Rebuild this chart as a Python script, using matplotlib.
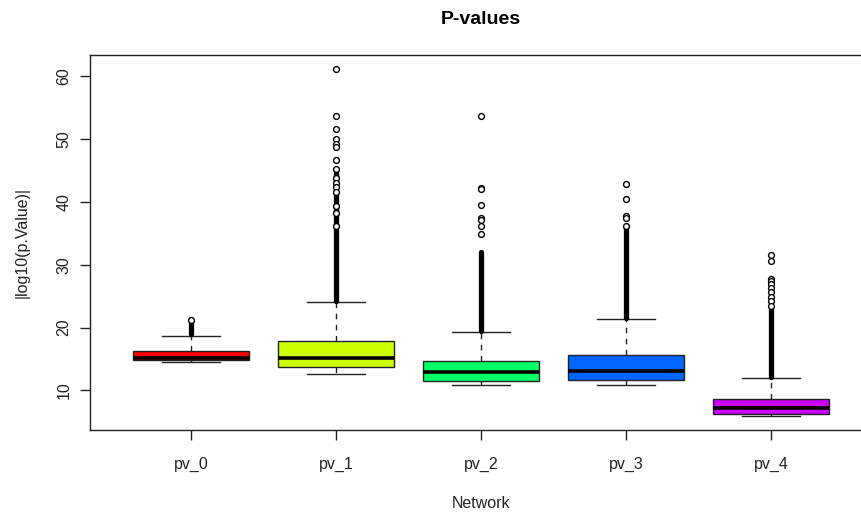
import matplotlib
matplotlib.use('Agg')
import matplotlib.pyplot as plt

plt.rcParams['font.family'] = ['Liberation Sans', 'DejaVu Sans']

# box statistics
labels = ['pv_0', 'pv_1', 'pv_2', 'pv_3', 'pv_4']
whislo = [14.5, 12.6, 10.8, 10.8, 5.9]
q1 = [14.85, 13.7, 11.5, 11.7, 6.3]
med = [15.15, 15.1, 13.0, 13.1, 7.2]
q3 = [16.2, 17.8, 14.6, 15.6, 8.7]
whishi = [18.7, 24.0, 19.3, 21.3, 12.0]

# runs of outliers so dense they print as a solid column
dense_lo = [18.9, 24.2, 19.5, 21.5, 12.2]
dense_hi = [20.9, 45.3, 32.1, 36.2, 22.9]

# single outliers that stand apart
fliers = [
    [21.2],
    [61.2, 53.7, 51.7, 50.1, 49.3, 48.8, 46.7, 45.3, 43.8, 43.0, 42.4, 41.6, 39.3, 38.2, 36.1],
    [53.7, 42.3, 42.0, 39.6, 37.4, 37.1, 36.1, 34.9],
    [42.8, 40.5, 37.8, 37.5, 36.2],
    [31.5, 30.6, 27.8, 27.4, 26.9, 26.3, 25.6, 24.9, 24.3, 23.5],
]

colors = ['#FF0000', '#CCFF00', '#00FF66', '#0066FF', '#CC00FF']

stats = []
for i in range(len(labels)):
    stats.append({'label': labels[i], 'whislo': whislo[i], 'q1': q1[i], 'med': med[i],
                  'q3': q3[i], 'whishi': whishi[i], 'fliers': []})

fig = plt.figure(figsize=(8.61, 5.12), dpi=100)
ax = fig.add_axes([90 / 861, 1 - 430 / 512, 782.5 / 861, 375 / 512])

pos = list(range(1, len(labels) + 1))
bp = ax.bxp(stats, positions=pos, widths=0.8, patch_artist=True, showfliers=False,
            boxprops=dict(edgecolor='#222222', linewidth=1.0),
            whiskerprops=dict(color='#222222', linewidth=1.0, linestyle=(0, (4, 4))),
            capprops=dict(color='#222222', linewidth=1.0),
            medianprops=dict(color='black', linewidth=2.6, solid_capstyle='butt'))
for box, c in zip(bp['boxes'], colors):
    box.set_facecolor(c)
for cap in bp['caps']:
    x0, x1 = cap.get_xdata()
    mid = (x0 + x1) / 2
    cap.set_xdata([mid - 0.2, mid + 0.2])

ax.vlines(pos, dense_lo, dense_hi, color='black', linewidth=3.8, capstyle='round', zorder=3)
for p, f in zip(pos, fliers):
    ax.plot([p] * len(f), f, linestyle='none', marker='o', markersize=4.2,
            markerfacecolor='white', markeredgecolor='black', markeredgewidth=1.0, zorder=4)

lo = min(whislo)
hi = max(max(f) for f in fliers)
ext = (hi - lo) * 0.04
ax.set_ylim(lo - ext, hi + ext)
ax.set_xlim(0.3, len(labels) + 0.7)

ax.set_yticks([10, 20, 30, 40, 50, 60])
ax.set_xticks(pos)
ax.set_xticklabels(labels)
ax.tick_params(axis='both', direction='out', length=7.5, width=1.0, labelsize=11.5, colors='#222222')
ax.tick_params(axis='x', pad=12)
ax.tick_params(axis='y', pad=6)
for t in ax.get_yticklabels():
    t.set_rotation(90)
    t.set_va('center')
for s in ax.spines.values():
    s.set_linewidth(1.0)
    s.set_color('#222222')

ax.set_title('P-values', fontsize=14, fontweight='bold', pad=22)
ax.set_xlabel('Network', fontsize=11.5, labelpad=17, color='#222222')
ax.set_ylabel('|log10(p.Value)|', fontsize=11.5, labelpad=19.5, color='#222222')

fig.savefig('out.png', dpi=100)
